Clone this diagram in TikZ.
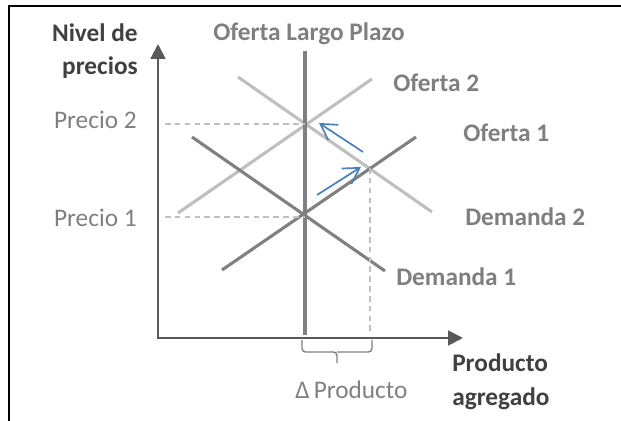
\documentclass[tikz,border=0pt]{standalone}
\usepackage{fontspec}
\setmainfont{Carlito}
\usepackage{tikz}
\usetikzlibrary{calc,positioning,arrows.meta}

\definecolor{lineadark}{HTML}{808080}
\definecolor{linealight}{HTML}{BFBFBF}
\definecolor{ejegray}{HTML}{595959}
\definecolor{textdark}{HTML}{404040}
\definecolor{textgray}{HTML}{7F7F7F}
\definecolor{flecha}{HTML}{4A7EBB}

\tikzset{
	curva/.style={line width=2.2pt},
	oscura/.style={curva, draw=lineadark},
	clara/.style={curva, draw=linealight},
	guia/.style={draw=linealight, line width=0.9pt, dash pattern=on 4pt off 3pt},
	eje/.style={draw=ejegray, line width=1.4pt, -{Triangle[length=10.5pt,width=10.5pt]}},
	despl/.style={draw=flecha, line width=1.2pt, -{Straight Barb[length=11pt,width=13pt]}},
	etiq/.style={font=\bfseries\fontsize{18}{24}\selectfont, text=textgray, inner sep=0pt},
	etiqdark/.style={etiq, text=textdark},
	etiqnormal/.style={font=\fontsize{18}{24}\selectfont, text=textgray, inner sep=0pt},
}

\begin{document}
\begin{tikzpicture}[x=0.025cm,y=-0.025cm]
		\useasboundingbox (0,0) rectangle (621,421);

		% marco
		\draw[black,line width=1.5pt] (8,6) -- (621,6);
		\draw[black,line width=1.5pt] (9,6) -- (9,421);

		% ejes
		\coordinate (O) at (158,338);
		\coordinate (Ytop) at (158,44);
		\coordinate (Xend) at (463,338);
		\draw[eje] (O) -- (Ytop);
		\draw[eje] ([xshift=-0.7pt]O) -- (Xend);

		% curvas
		\coordinate (LRa) at (305,51);
		\coordinate (LRb) at (305,335);
		\coordinate (O1a) at (222,270);
		\coordinate (O1b) at (416,137);
		\coordinate (D1a) at (192,137);
		\coordinate (D1b) at (385,271);
		\coordinate (O2a) at (178,213);
		\coordinate (O2b) at (372,79);
		\coordinate (D2a) at (238,77);
		\coordinate (D2b) at (432,212);

		\draw[clara] (O2a) -- (O2b);
		\draw[clara] (D2a) -- (D2b);
		\draw[oscura] (O1a) -- (O1b);
		\draw[oscura] (D1a) -- (D1b);
		\draw[oscura] (LRa) -- (LRb);

		% lineas guia
		\coordinate (P1) at (165,217);
		\coordinate (E1) at (305,217);
		\coordinate (P2) at (165,124);
		\coordinate (E2) at (305,124);
		\coordinate (E3) at (370,168);
		\coordinate (Q3) at (370,331);
		\draw[guia] (P1) -- (E1);
		\draw[guia] (P2) -- (E2);
		\draw[guia] (E3) -- (Q3);

		% desplazamientos
		\coordinate (f1a) at (317,195);
		\coordinate (f1b) at (361,167);
		\coordinate (f2a) at (363,152);
		\coordinate (f2b) at (319,123);
		\draw[despl] (f1a) -- (f1b);
		\draw[despl] (f2a) -- (f2b);

		% llave
		\draw[draw=lineadark, line width=1pt, rounded corners=2.5pt]
			(302,340) |- (337,352) -- (337,363);
		\draw[draw=lineadark, line width=1pt, rounded corners=2.5pt]
			(372,340) |- (337,352);

		% textos
		\node[etiqdark, align=right, anchor=east] (nivel) at (138,51) {Nivel de\\precios};
		\node[etiq, anchor=west] (lr) at (213,34) {Oferta Largo Plazo};
		\node[etiq, anchor=west] (of2) at (393,83) {Oferta 2};
		\node[etiq, anchor=west] (of1) at (463,133) {Oferta 1};
		\node[etiq, anchor=west] (de2) at (465,217) {Demanda 2};
		\node[etiq, anchor=west] (de1) at (396,277) {Demanda 1};
		\node[etiqnormal, anchor=east] (pr2) at (137,120) {Precio 2};
		\node[etiqnormal, anchor=east] (pr1) at (137,218) {Precio 1};
		\node[etiqnormal, anchor=west] (dp) at (295,390) {Δ\,Producto};
		\node[etiqdark, align=left, anchor=west] (prod) at (452,382) {Producto\\agregado};
	\end{tikzpicture}
\end{document}
